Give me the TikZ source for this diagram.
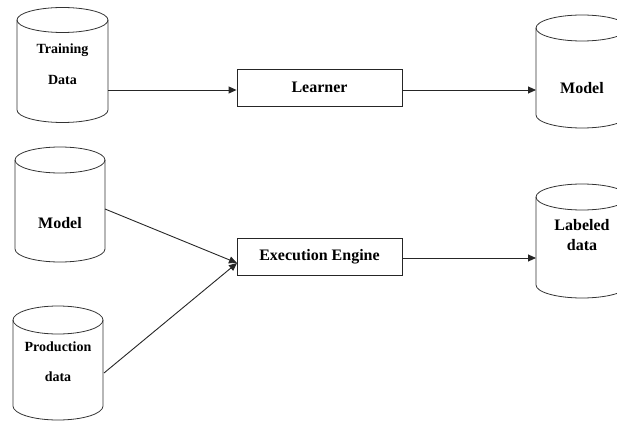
\documentclass[tikz,border=0pt]{standalone}
\usepackage{fontspec}
\setmainfont{Liberation Serif}
\usetikzlibrary{arrows.meta}
\tikzset{
  cyl/.style={draw=black!80, line width=0.8pt},
  procbox/.style={draw=black!85, line width=0.9pt, minimum width=165pt, minimum height=37pt, inner sep=0pt},
  lbl/.style={font=\bfseries\fontsize{16}{20}\selectfont, inner sep=0pt, align=center},
  slbl/.style={font=\bfseries\fontsize{14}{17}\selectfont, inner sep=0pt, align=center},
  arr/.style={draw=black!85, line width=0.9pt, -{Triangle[length=8pt,width=7pt]}}
}
\newcommand{\drawcyl}[5]{% cx, top center y, bottom center y, rx, ry
  \draw[cyl] (#1,#2) ellipse ({#4} and {#5});
  \draw[cyl] ({#1-#4},#2) -- ({#1-#4},#3) arc (180:360:{#4} and {#5}) -- ({#1+#4},#2);
}
\begin{document}
\begin{tikzpicture}[x=1pt,y=1pt]
\useasboundingbox (0,0) rectangle (617,-422);
\clip (0,0) rectangle (617,-422);
% cylinders
\drawcyl{62.5}{-20}{-110}{45.5}{12.5}
\drawcyl{582}{-28}{-115}{46}{13}
\drawcyl{60}{-160}{-249}{45}{13}
\drawcyl{58}{-320}{-406}{45}{14}
\drawcyl{582}{-197}{-285}{46}{13}
% cylinder labels
\node[slbl] (tr1) at (62.5,-50) {Training};
\node[slbl] (tr2) at (62.5,-80) {Data};
\node[lbl] (mdr) at (582,-88) {Model};
\node[lbl] (mdm) at (60,-223) {Model};
\node[slbl] (pd1) at (58,-347) {Production};
\node[slbl] (pd2) at (58,-377) {data};
\node[lbl] (ld) at (582,-235) {Labeled\\data};
% process boxes
\node[procbox, lbl, inner sep=0pt] (ln) at (319.5,-87.5) {Learner};
\node[procbox, lbl, inner sep=0pt] (ee) at (319.5,-256.5) {Execution Engine};
% connector ends
\coordinate (tdR) at (108,-90);
\coordinate (mdrL) at (536,-90);
\coordinate (mmR) at (105,-209);
\coordinate (pdR) at (104,-373);
\coordinate (eeIn) at (237,-263);
\coordinate (ldL) at (536,-258);
% connectors
\draw[arr] (tdR) -- (ln.west |- tdR);
\draw[arr] (ln.east |- tdR) -- (mdrL);
\draw[arr] (mmR) -- (eeIn);
\draw[arr] (pdR) -- (eeIn);
\draw[arr] (ee.east |- ldL) -- (ldL);
\end{tikzpicture}
\end{document}
